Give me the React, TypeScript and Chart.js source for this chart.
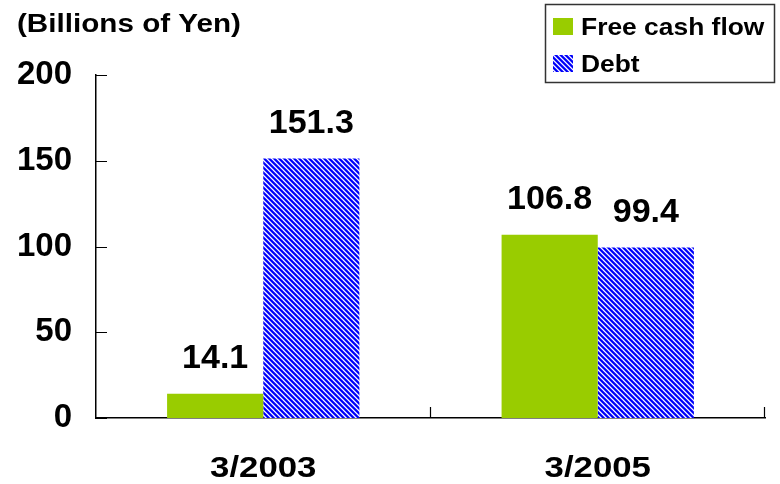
import React, { useEffect, useRef } from "react";
import { Chart, registerables } from "chart.js";

Chart.register(...registerables);

// Chart data
const categories = ["3/2003", "3/2005"];
const seriesNames = ["Free cash flow", "Debt"];
const freeCashFlow = [14.1, 106.8];
const debt = [151.3, 99.4];
const yTickValues = [0, 50, 100, 150, 200];
const unitLabel = "(Billions of Yen)";

const FONT = '"Liberation Sans", Arial, Helvetica, sans-serif';
const GREEN = "#99cc00";

// Blue diagonal hatch ("\\\\") built pixel by pixel so the tile repeats cleanly.
function makeHatch(): CanvasPattern | string {
  const size = 5;
  const c = document.createElement("canvas");
  c.width = size;
  c.height = size;
  const ctx = c.getContext("2d");
  if (!ctx) return "#0000ff";
  const img = ctx.createImageData(size, size);
  const shades = [
    [0, 0, 240],
    [0, 0, 255],
    [60, 60, 255],
    [245, 245, 255],
    [140, 140, 255],
  ];
  for (let y = 0; y < size; y++) {
    for (let x = 0; x < size; x++) {
      const k = (((x - y) % size) + size) % size;
      const i = (y * size + x) * 4;
      img.data[i] = shades[k][0];
      img.data[i + 1] = shades[k][1];
      img.data[i + 2] = shades[k][2];
      img.data[i + 3] = 255;
    }
  }
  ctx.putImageData(img, 0, 0);
  return ctx.createPattern(c, "repeat") || "#0000ff";
}

function stretchedText(
  ctx: CanvasRenderingContext2D,
  text: string,
  x: number,
  y: number,
  sx: number,
  align: CanvasTextAlign
) {
  ctx.save();
  ctx.translate(x, y);
  ctx.scale(sx, 1);
  ctx.textAlign = align;
  ctx.fillText(text, 0, 0);
  ctx.restore();
}

export default function App() {
  const ref = useRef<HTMLCanvasElement | null>(null);

  useEffect(() => {
    document.body.style.margin = "0";
    const canvas = ref.current;
    if (!canvas) return;
    const hatch = makeHatch();

    const decorations = {
      id: "decorations",
      afterDraw(chart: any) {
        const ctx: CanvasRenderingContext2D = chart.ctx;
        const area = chart.chartArea;
        const xScale = chart.scales.x;
        const yScale = chart.scales.y;
        ctx.save();
        ctx.fillStyle = "#000";
        ctx.textBaseline = "alphabetic";

        // unit caption
        ctx.font = `bold 26px ${FONT}`;
        stretchedText(ctx, unitLabel, 17, 32, 1.14, "left");

        // inward tick marks on the value axis
        ctx.strokeStyle = "#000";
        ctx.lineWidth = 1.2;
        ctx.beginPath();
        yTickValues.forEach((v) => {
          const y = Math.round(yScale.getPixelForValue(v)) + 0.5;
          ctx.moveTo(area.left, y);
          ctx.lineTo(area.left + 11, y);
        });
        // category boundary ticks pointing up
        const n = categories.length;
        for (let i = 1; i <= n; i++) {
          const x = Math.round(area.left + ((area.right - area.left) * i) / n) - 0.5;
          ctx.moveTo(x, area.bottom);
          ctx.lineTo(x, area.bottom - 11);
        }
        ctx.stroke();

        // category labels
        ctx.font = `bold 29px ${FONT}`;
        categories.forEach((c, i) => {
          stretchedText(ctx, c, xScale.getPixelForValue(i), 477, 1.2, "center");
        });

        // value labels above bars
        ctx.font = `bold 34px ${FONT}`;
        ctx.textAlign = "center";
        ctx.textBaseline = "middle";
        chart.data.datasets.forEach((ds: any, di: number) => {
          const meta = chart.getDatasetMeta(di);
          meta.data.forEach((bar: any, i: number) => {
            const v = ds.data[i] as number;
            ctx.fillText(v.toFixed(1), bar.x, bar.y - 35);
          });
        });

        // legend
        ctx.strokeStyle = "#333";
        ctx.lineWidth = 1.5;
        ctx.strokeRect(545.5, 4.5, 229, 78);
        ctx.textBaseline = "alphabetic";
        ctx.font = `bold 24px ${FONT}`;
        chart.data.datasets.forEach((ds: any, di: number) => {
          const top = 18 + di * 37;
          ctx.fillStyle = ds.backgroundColor;
          ctx.fillRect(553, top, 20, 17);
          ctx.fillStyle = "#000";
          stretchedText(ctx, ds.label, 581, top + 17, 1.1, "left");
        });
        ctx.restore();
      },
    };

    const chart = new Chart(canvas, {
      type: "bar",
      data: {
        labels: categories,
        datasets: [
          {
            label: seriesNames[0],
            data: freeCashFlow,
            backgroundColor: GREEN,
            borderWidth: 0,
            categoryPercentage: 0.575,
            barPercentage: 1,
          },
          {
            label: seriesNames[1],
            data: debt,
            backgroundColor: hatch as any,
            borderWidth: 0,
            categoryPercentage: 0.575,
            barPercentage: 1,
          },
        ],
      },
      options: {
        animation: false,
        responsive: false,
        maintainAspectRatio: false,
        devicePixelRatio: 1,
        layout: { padding: { top: 75, right: 15, left: 0, bottom: 0 } },
        plugins: {
          legend: { display: false },
          tooltip: { enabled: false },
        },
        scales: {
          x: {
            grid: { display: false, drawTicks: false },
            border: { display: true, color: "#000", width: 1.5 },
            ticks: { display: false },
            afterFit: (s: any) => {
              s.height = 66;
            },
          },
          y: {
            min: 0,
            max: 200,
            afterBuildTicks: (s: any) => {
              s.ticks = yTickValues.map((v) => ({ value: v }));
            },
            grid: { display: false, drawTicks: false },
            border: { display: true, color: "#000", width: 1.5 },
            ticks: {
              font: { family: FONT, size: 33, weight: "bold" },
              color: "#000",
              padding: 24,
            },
            afterFit: (s: any) => {
              s.width = 96;
            },
          },
        },
      },
      plugins: [decorations],
    });

    return () => chart.destroy();
  }, []);

  return (
    <canvas
      ref={ref}
      width={780}
      height={484}
      style={{ display: "block", width: 780, height: 484 }}
    />
  );
}
